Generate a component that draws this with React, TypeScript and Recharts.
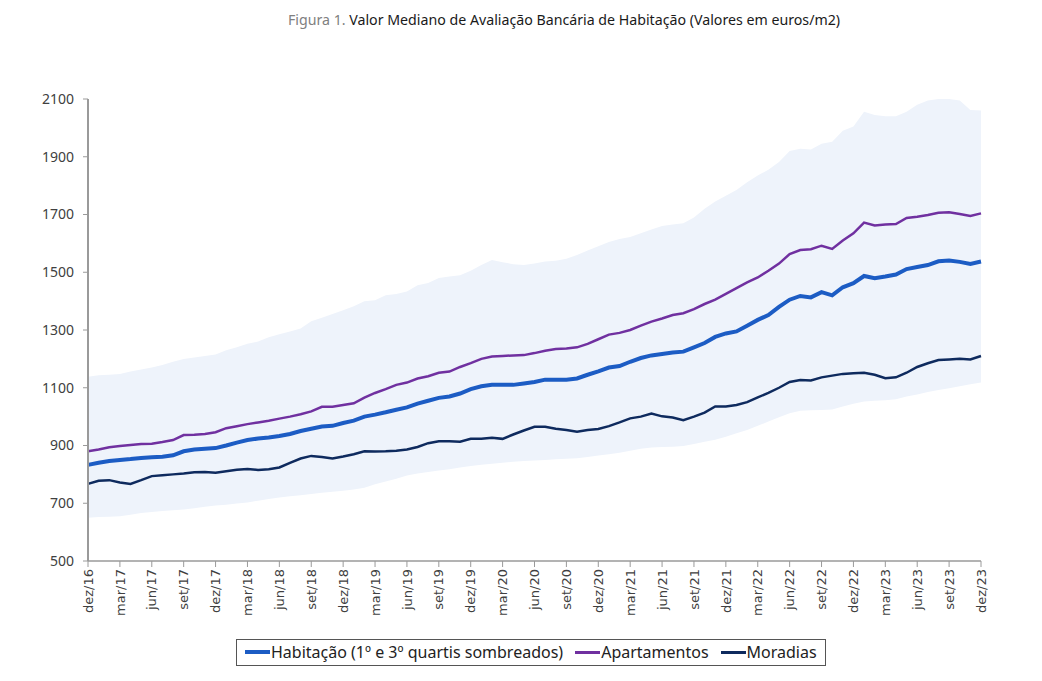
import { ComposedChart, Line, Area, XAxis, YAxis, Legend } from 'recharts'

const MONTHS = ['jan', 'fev', 'mar', 'abr', 'mai', 'jun', 'jul', 'ago', 'set', 'out', 'nov', 'dez']

// dez/16 .. dez/23, monthly
const categories: string[] = ['dez/16']
for (let y = 17; y <= 23; y++) {
  for (const m of MONTHS) categories.push(`${m}/${y}`)
}

const habitacao = [
  833, 840, 846, 850, 853, 857, 859, 861, 866, 880, 886, 889, 891, 900, 910, 919, 924, 928, 933, 940,
  950, 958, 966, 968, 978, 986, 1000, 1007, 1015, 1024, 1032, 1045, 1055, 1065, 1070, 1080, 1095, 1105, 1110, 1110,
  1110, 1115, 1120, 1128, 1128, 1128, 1132, 1145, 1157, 1170, 1175, 1190, 1203, 1212, 1217, 1222, 1225, 1240, 1255, 1276,
  1288, 1295, 1315, 1335, 1352, 1380, 1405, 1418, 1413, 1431, 1420, 1448, 1462, 1487, 1479, 1485, 1492, 1511, 1518, 1525,
  1538, 1541, 1536, 1529, 1537,
]

const apartamentos = [
  880, 886, 894, 898, 902, 905, 906, 912, 919, 936, 937, 940, 946, 960, 967, 974, 980, 986, 993, 1000,
  1008, 1018, 1034, 1034, 1040, 1046, 1066, 1082, 1095, 1110, 1118, 1132, 1140, 1152, 1156, 1172, 1185, 1200, 1208, 1210,
  1212, 1213, 1220, 1228, 1234, 1236, 1240, 1252, 1268, 1284, 1290, 1300, 1315, 1329, 1340, 1352, 1358, 1372, 1390, 1405,
  1425, 1445, 1465, 1482, 1505, 1530, 1563, 1577, 1580, 1592, 1581, 1610, 1635, 1672, 1662, 1665, 1667, 1688, 1692, 1698,
  1706, 1708, 1702, 1695, 1704,
]

const moradias = [
  767, 778, 780, 772, 767, 780, 794, 797, 800, 803, 807, 808, 806, 811, 816, 819, 815, 818, 824, 840,
  855, 864, 860, 855, 862, 870, 880, 879, 880, 882, 886, 895, 908, 915, 915, 913, 923, 923, 927, 923,
  938, 952, 965, 965, 958, 954, 948, 954, 957, 967, 980, 994, 1000, 1011, 1001, 997, 988, 1000, 1014, 1035,
  1035, 1040, 1050, 1067, 1082, 1100, 1120, 1127, 1125, 1136, 1142, 1148, 1150, 1152, 1145, 1133, 1136, 1152, 1172, 1185,
  1196, 1198, 1200, 1198, 1210,
]

// 1º quartil
const quartil1 = [
  650, 652, 653, 655, 660, 666, 670, 673, 676, 678, 683, 688, 692, 695, 699, 703, 709, 715, 720, 724,
  728, 732, 736, 740, 743, 748, 754, 766, 775, 785, 796, 803, 808, 813, 818, 824, 829, 833, 837, 840,
  844, 846, 848, 850, 852, 854, 856, 860, 865, 870, 875, 882, 889, 893, 895, 896, 898, 905, 913, 920,
  930, 942, 954, 968, 983, 998, 1012, 1020, 1022, 1023, 1025, 1035, 1045, 1052, 1055, 1057, 1060, 1070, 1077, 1085,
  1092, 1098, 1105, 1112, 1118,
]

// 3º quartil
const quartil3 = [
  1138, 1143, 1145, 1148, 1156, 1163, 1170, 1179, 1190, 1200, 1205, 1210, 1215, 1230, 1240, 1252, 1260, 1275, 1285, 1295,
  1305, 1330, 1342, 1355, 1368, 1382, 1400, 1403, 1420, 1425, 1433, 1455, 1463, 1480, 1485, 1490, 1505, 1525, 1542, 1535,
  1528, 1525, 1530, 1537, 1540, 1547, 1560, 1575, 1590, 1605, 1615, 1622, 1635, 1648, 1660, 1665, 1670, 1690, 1720, 1745,
  1765, 1785, 1812, 1835, 1855, 1882, 1920, 1928, 1925, 1945, 1952, 1990, 2005, 2056, 2045, 2040, 2040, 2056, 2080, 2095,
  2100, 2100, 2095, 2062, 2060,
]

const yTicks = [500, 700, 900, 1100, 1300, 1500, 1700, 1900, 2100]

const data = categories.map((label, i) => ({
  label,
  habitacao: habitacao[i],
  apartamentos: apartamentos[i],
  moradias: moradias[i],
  quartis: [quartil1[i], quartil3[i]],
}))

const COLORS = {
  habitacao: '#1C5CC4',
  apartamentos: '#7030A0',
  moradias: '#0E2A5E',
  band: '#EEF3FB',
}

const LEGEND_ITEMS = [
  { name: 'Habitação (1º e 3º quartis sombreados)', color: COLORS.habitacao, width: 4 },
  { name: 'Apartamentos', color: COLORS.apartamentos, width: 3 },
  { name: 'Moradias', color: COLORS.moradias, width: 3 },
]

function MonthTick({ x, y, payload }: any) {
  return (
    <text
      x={x}
      y={y}
      transform={`rotate(-90 ${x} ${y})`}
      textAnchor="end"
      dy="0.36em"
      fontSize={13}
      fontFamily="DejaVu Sans"
      fill="#404040"
    >
      {payload.value}
    </text>
  )
}

function LegendBox() {
  return (
    <div
      style={{
        display: 'flex',
        alignItems: 'center',
        gap: 12,
        border: '1px solid #555',
        padding: '1px 8px 2px 8px',
        fontFamily: 'Noto Sans',
        fontSize: 16,
        color: '#222',
        background: '#fff',
        whiteSpace: 'nowrap',
      }}
    >
      {LEGEND_ITEMS.map((it) => (
        <span key={it.name} style={{ display: 'flex', alignItems: 'center' }}>
          <span style={{ display: 'inline-block', width: 25, height: it.width, background: it.color, marginRight: 1 }} />
          {it.name}
        </span>
      ))}
    </div>
  )
}

export default function App() {
  return (
    <div style={{ position: 'absolute', left: 0, top: 0, width: 1042, height: 681, background: '#fff' }}>
      <div
        style={{
          position: 'absolute',
          left: 43,
          top: 10,
          width: 1042,
          textAlign: 'center',
          fontFamily: 'Noto Sans',
          fontSize: 14.2,
          color: '#1a1a1a',
        }}
      >
        <span style={{ color: '#808080' }}>Figura 1.</span> Valor Mediano de Avaliação Bancária de Habitação (Valores em euros/m2)
      </div>
      <ComposedChart
        width={1042}
        height={681}
        data={data}
        margin={{ top: 99, right: 61, bottom: 60, left: 28 }}
        style={{ position: 'absolute', left: 0, top: 0 }}
      >
        <XAxis
          dataKey="label"
          scale="point"
          padding={{ left: 0, right: 0 }}
          interval={2}
          height={60}
          tick={<MonthTick />}
          tickSize={6}
          tickMargin={2}
          axisLine={{ stroke: '#9a9a9a', strokeWidth: 1.5 }}
          tickLine={{ stroke: '#9a9a9a' }}
        />
        <YAxis
          domain={[500, 2100]}
          ticks={yTicks}
          allowDataOverflow
          width={60}
          tickSize={5}
          tickMargin={9}
          axisLine={{ stroke: '#9a9a9a', strokeWidth: 2 }}
          tickLine={{ stroke: '#9a9a9a' }}
          tick={{ fontSize: 14, fontFamily: 'Noto Sans', fill: '#404040' }}
        />
        <Area
          dataKey="quartis"
          type="linear"
          stroke="none"
          fill={COLORS.band}
          fillOpacity={1}
          isAnimationActive={false}
          legendType="none"
        />
        <Line dataKey="habitacao" name="Habitação (1º e 3º quartis sombreados)" type="linear" stroke={COLORS.habitacao} strokeWidth={4} dot={false} isAnimationActive={false} />
        <Line dataKey="apartamentos" name="Apartamentos" type="linear" stroke={COLORS.apartamentos} strokeWidth={2.5} dot={false} isAnimationActive={false} />
        <Line dataKey="moradias" name="Moradias" type="linear" stroke={COLORS.moradias} strokeWidth={2.5} dot={false} isAnimationActive={false} />
        <Legend
          layout="horizontal"
          align="center"
          verticalAlign="middle"
          content={<LegendBox />}
          wrapperStyle={{ position: 'absolute', left: 236, top: 639, width: 'auto' }}
        />
      </ComposedChart>
    </div>
  )
}
